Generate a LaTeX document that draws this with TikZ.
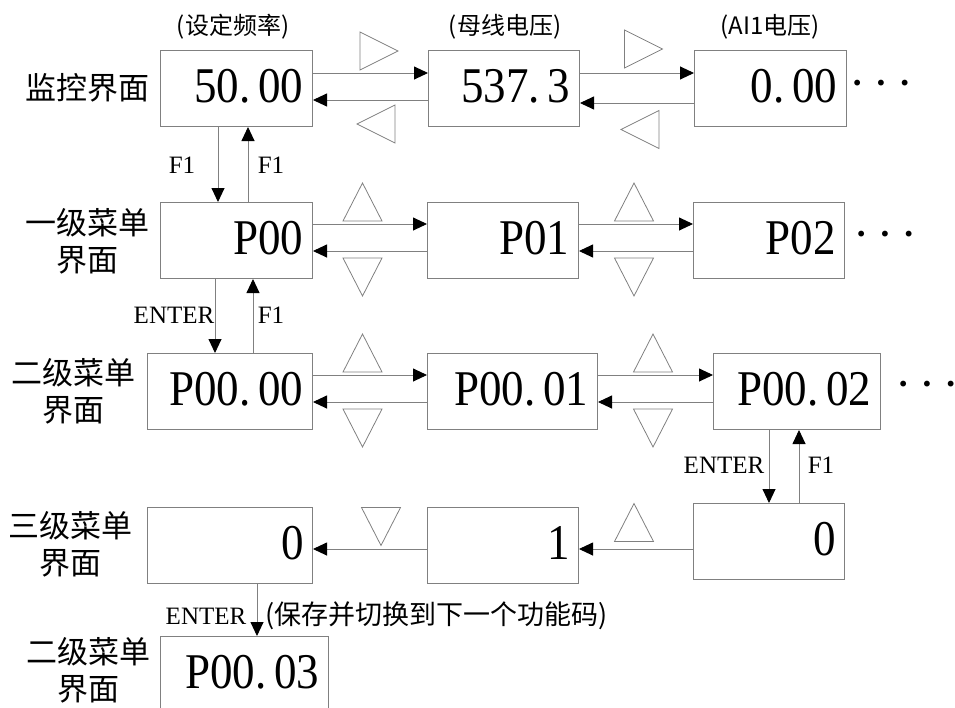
\documentclass[tikz,border=0pt]{standalone}
\usepackage{fontspec}
\setmainfont{Liberation Serif}
\newfontfamily\cjk{Noto Sans CJK SC}
\newfontfamily\dotf{DejaVu Sans}
\newfontfamily\numf[FakeStretch=0.9]{Liberation Serif}
\usetikzlibrary{arrows.meta}
\definecolor{lg}{RGB}{128,128,128}
\newcommand\bigtxt{\numf\fontsize{50pt}{50pt}\selectfont}
\newcommand\bx[1]{\mbox{\spaceskip=8pt plus 0pt minus 0pt\xspaceskip=8pt plus 0pt minus 0pt\relax #1}}
\newcommand\tright[2]{\draw[tri,shift={(#1,#2)}] (-19,-19) -- (19,0) -- (-19,19) -- cycle;}
\newcommand\tleft[2]{\draw[tri,shift={(#1,#2)}] (19,-19) -- (-19,0) -- (19,19) -- cycle;}
\newcommand\tup[2]{\draw[tri,shift={(#1,#2)}] (-19.5,19) -- (0,-19) -- (19.5,19) -- cycle;}
\newcommand\tdown[2]{\draw[tri,shift={(#1,#2)}] (-19.5,-19) -- (0,19) -- (19.5,-19) -- cycle;}
\begin{document}
\begin{tikzpicture}[x=1pt,y=-1pt,
  box/.style 2 args={draw=lg, line width=1pt, anchor=north west, minimum width=#1pt,
    minimum height=76pt, text width=#2pt, inner xsep=9pt, inner ysep=0pt,
    text depth=6pt, align=right, font=\bigtxt},
  conn/.style={draw=lg, line width=0.9pt, -{Triangle[length=14pt,width=13pt,black]}},
  tri/.style={draw=lg, line width=0.8pt},
  side/.style={font=\cjk\fontsize{31pt}{37pt}\selectfont, align=center, inner sep=0pt},
  top/.style={font=\cjk\fontsize{24pt}{24pt}\selectfont, inner sep=0pt},
  key/.style={font=\fontsize{25pt}{25pt}\selectfont, inner sep=0pt},
  dots/.style={font=\dotf\fontsize{20pt}{20pt}\selectfont, inner sep=0pt}
]
\useasboundingbox (0,0) rectangle (955,707);
\clip (0,0) rectangle (955,707);

% row 1
\node[box={152}{134}] (m1) at (160,50) {\bx{50. 00}};
\node[box={151}{133}] (m2) at (428,50) {\bx{537. 3}};
\node[box={152}{134}] (m3) at (694,50) {\bx{0. 00}};
% row 2
\node[box={152}{134}] (a1) at (160,202) {P00};
\node[box={151}{133}] (a2) at (427,202) {P01};
\node[box={151}{133}] (a3) at (693,202) {P02};
% row 3
\node[box={165}{147}] (b1) at (147,353) {\bx{P00. 00}};
\node[box={170}{152}] (b2) at (427,353) {\bx{P00. 01}};
\node[box={167}{149}] (b3) at (713,353) {\bx{P00. 02}};
% row 4
\node[box={165}{147}] (c1) at (147,507) {0};
\node[box={151}{133}] (c2) at (427,507) {1};
\node[box={151}{133}] (c3) at (693,503) {0};
% row 5
\node[box={168}{150}] (d1) at (160,636) {\bx{P00. 03}};

% side labels
\node[side] (s1) at (87,88) {监控界面};
\node[side] (s2) at (87,241.5) {一级菜单\\界面};
\node[side] (s3) at (73,391.5) {二级菜单\\界面};
\node[side] (s4) at (70.5,544) {三级菜单\\界面};
\node[side] (s5) at (88,670) {二级菜单\\界面};

% top labels
\node[top] (t1) at (233,27) {(设定频率)};
\node[top] (t2) at (505,27) {(母线电压)};
\node[top] (t3) at (770,27) {(AI1电压)};

% dots
\node[dots] (e1) at (881,85) {•\kern12pt•\kern12pt•};
\node[dots] (e2) at (885,236) {•\kern12pt•\kern12pt•};
\node[dots] (e3) at (927,386) {•\kern12pt•\kern12pt•};

% horizontal connectors
\draw[conn] (m1.east |- 0,73) -- (m2.west |- 0,73);
\draw[conn] (m2.west |- 0,100) -- (m1.east |- 0,100);
\draw[conn] (m2.east |- 0,73) -- (m3.west |- 0,73);
\draw[conn] (m3.west |- 0,103) -- (m2.east |- 0,103);

\draw[conn] (a1.east |- 0,224) -- (a2.west |- 0,224);
\draw[conn] (a2.west |- 0,251) -- (a1.east |- 0,251);
\draw[conn] (a2.east |- 0,224) -- (a3.west |- 0,224);
\draw[conn] (a3.west |- 0,251) -- (a2.east |- 0,251);

\draw[conn] (b1.east |- 0,375) -- (b2.west |- 0,375);
\draw[conn] (b2.west |- 0,402) -- (b1.east |- 0,402);
\draw[conn] (b2.east |- 0,375) -- (b3.west |- 0,375);
\draw[conn] (b3.west |- 0,402) -- (b2.east |- 0,402);

\draw[conn] (c3.west |- 0,549) -- (c2.east |- 0,549);
\draw[conn] (c2.west |- 0,549) -- (c1.east |- 0,549);

% vertical connectors
\draw[conn] (m1.south -| 218,0) -- (a1.north -| 218,0);
\draw[conn] (a1.north -| 248,0) -- (m1.south -| 248,0);
\draw[conn] (a1.south -| 215,0) -- (b1.north -| 215,0);
\draw[conn] (b1.north -| 253,0) -- (a1.south -| 253,0);
\draw[conn] (b3.south -| 769,0) -- (c3.north -| 769,0);
\draw[conn] (c3.north -| 799,0) -- (b3.south -| 799,0);
\draw[conn] (c1.south -| 257,0) -- (d1.north -| 257,0);

% key labels
\node[key] (k1) at (182,165) {F1};
\node[key] (k2) at (271,165) {F1};
\node[key] (k3) at (174,315) {ENTER};
\node[key] (k4) at (271,315) {F1};
\node[key] (k5) at (724,465) {ENTER};
\node[key] (k6) at (821,465) {F1};
\node[key] (k7) at (206,616) {ENTER};
\node[font=\cjk\fontsize{27pt}{27pt}\selectfont, inner sep=0pt, anchor=west] (n1) at (265,616) {(保存并切换到下一个功能码)};

% key triangles
\tright{379}{51}
\tleft{376}{124}
\tright{643.5}{49}
\tleft{640}{129.5}
\tup{362.5}{202}
\tdown{362.5}{277}
\tup{634}{202}
\tdown{634}{277}
\tup{362.5}{353}
\tdown{362.5}{428}
\tup{653}{353}
\tdown{653}{428}
\tdown{381}{526.5}
\tup{634}{522.5}
\end{tikzpicture}
\end{document}
